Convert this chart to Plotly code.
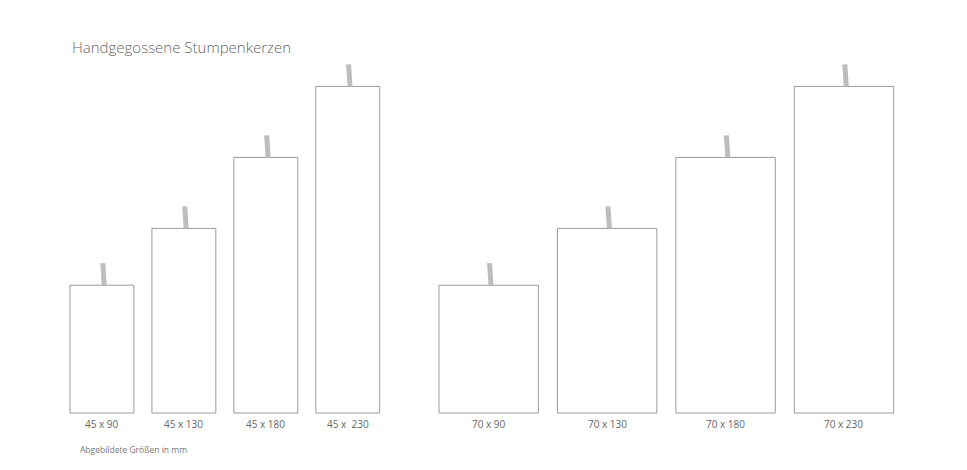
import plotly.graph_objects as go

diam_a = [45, 45, 45, 45]
height_a = [90, 130, 180, 230]
labels_a = ["45 x 90", "45 x 130", "45 x 180", "45 x  230"]
diam_b = [70, 70, 70, 70]
height_b = [90, 130, 180, 230]
labels_b = ["70 x 90", "70 x 130", "70 x 180", "70 x 230"]

K = 1.42  # px per mm
W, H = 967, 470
OFF = 8  # page body margin
gap_a, gap_b = 12.7, 13.4
start_a = 70 / K
start_b = 439 / K

def centers(start, diams, gap):
    out, x = [], start
    for d in diams:
        out.append(x + d / 2)
        x += d + gap
    return out

cx = centers(start_a, diam_a, gap_a) + centers(start_b, diam_b, gap_b)
diams = diam_a + diam_b
heights = height_a + height_b
labels = labels_a + labels_b

fig = go.Figure()
fig.add_trace(go.Bar(x=cx, y=heights, width=diams,
                     marker=dict(color="white", line=dict(color="#9a9a9a", width=1)),
                     hoverinfo="skip"))
for c, h in zip(cx, heights):
    fig.add_trace(go.Scatter(x=[c + 1.6, c + 0.6], y=[h, h + 15.5], mode="lines",
                             line=dict(color="#bdbdbd", width=5), hoverinfo="skip"))
for c, lab in zip(cx, labels):
    fig.add_annotation(x=c, y=-8, text=lab, showarrow=False,
                       font=dict(size=10, color="#666", family="Open Sans"))
fig.add_annotation(x=70 / K, y=(413 - 47) / K, text="Handgegossene Stumpenkerzen",
                   showarrow=False, xanchor="left", yanchor="middle",
                   font=dict(size=15, color="#666", family="Open Sans", weight=300))
fig.add_annotation(x=78 / K, y=(413 - 449) / K, text="Abgebildete Größen in mm",
                   showarrow=False, xanchor="left", yanchor="middle",
                   font=dict(size=8.5, color="#777", family="Open Sans"))

base = 413 - OFF
fig.update_layout(width=W, height=H, margin=dict(l=0, r=0, t=0, b=0),
                  plot_bgcolor="white", paper_bgcolor="white", showlegend=False,
                  xaxis=dict(range=[OFF / K, (W + OFF) / K], visible=False),
                  yaxis=dict(range=[-(H - base) / K, base / K], visible=False))
fig.write_html("out.html")
